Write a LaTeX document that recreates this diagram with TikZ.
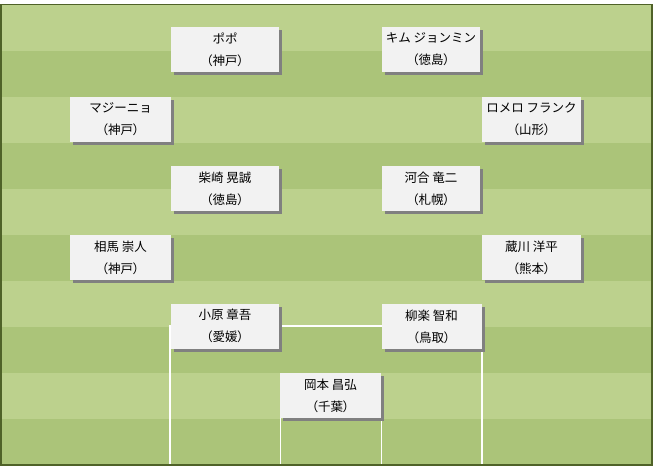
\documentclass[tikz,border=0pt]{standalone}
\usepackage{fontspec}
\newfontfamily\jp{Noto Sans CJK JP}
\newfontfamily\jpp[RawFeature=+palt]{Noto Sans CJK JP}
\usetikzlibrary{shadows}
\definecolor{lightband}{HTML}{BCD18D}
\definecolor{darkband}{HTML}{ABC479}
\definecolor{fieldborder}{HTML}{4F6228}
\definecolor{boxfill}{HTML}{F2F2F2}
\definecolor{shadowgray}{HTML}{808080}
\tikzset{
  player/.style={fill=boxfill, draw=none, inner sep=0pt,
    minimum height=45pt, align=center,
    font=\jp\fontsize{12.5}{22}\selectfont,
    drop shadow={shadow xshift=3pt, shadow yshift=-3pt, fill=shadowgray, opacity=1}},
  fieldline/.style={draw=white, line width=1.6pt}
}
\newcommand{\pl}[2]{#1\\{\jpp #2}}
\begin{document}
\begin{tikzpicture}[x=1pt, y=-1pt]
\useasboundingbox (0,0) rectangle (657,471);
% stripes
\foreach \i in {0,...,9} {
  \pgfmathsetmacro{\ya}{5+46*\i}
  \pgfmathsetmacro{\yb}{5+46*(\i+1)}
  \pgfmathtruncatemacro{\odd}{mod(\i,2)}
  \ifnum\odd=0
    \fill[lightband] (1,\ya) rectangle (652,\yb);
  \else
    \fill[darkband] (1,\ya) rectangle (652,\yb);
  \fi
}
% penalty area and goal area
\coordinate (pa1) at (170,465);
\coordinate (pa2) at (170,326);
\coordinate (pa3) at (482,326);
\coordinate (pa4) at (482,465);
\draw[fieldline] (pa1) -- (pa2) -- (pa3) -- (pa4);
\coordinate (ga1) at (280.5,465);
\coordinate (ga2) at (280.5,395);
\coordinate (ga3) at (381.5,395);
\coordinate (ga4) at (381.5,465);
\draw[fieldline] (ga1) -- (ga2) -- (ga3) -- (ga4);
% border
\draw[fieldborder, line width=1.5pt] (1,4.5) rectangle (652,465);
% players
\node[player, minimum width=108pt] (p1) at (225,49.5) {\pl{ポポ}{（神戸）}};
\node[player, minimum width=98pt] (p2) at (431,49.5) {\pl{キム ジョンミン}{（徳島）}};
\node[player, minimum width=101pt] (p3) at (120.5,119.5) {\pl{マジーニョ}{（神戸）}};
\node[player, minimum width=99pt] (p4) at (531.5,119.5) {\pl{ロメロ フランク}{（山形）}};
\node[player, minimum width=108pt] (p5) at (225,188.5) {\pl{柴崎 晃誠}{（徳島）}};
\node[player, minimum width=98pt] (p6) at (431,188.5) {\pl{河合 竜二}{（札幌）}};
\node[player, minimum width=101pt] (p7) at (120.5,257.5) {\pl{相馬 崇人}{（神戸）}};
\node[player, minimum width=99pt] (p8) at (531.5,257.5) {\pl{蔵川 洋平}{（熊本）}};
\node[player, minimum width=108pt] (p9) at (225,326) {\pl{小原 章吾}{（愛媛）}};
\node[player, minimum width=100pt] (p10) at (431.5,326.5) {\pl{柳楽 智和}{（鳥取）}};
\node[player, minimum width=101pt] (p11) at (330.5,395.5) {\pl{岡本 昌弘}{（千葉）}};
\end{tikzpicture}
\end{document}
